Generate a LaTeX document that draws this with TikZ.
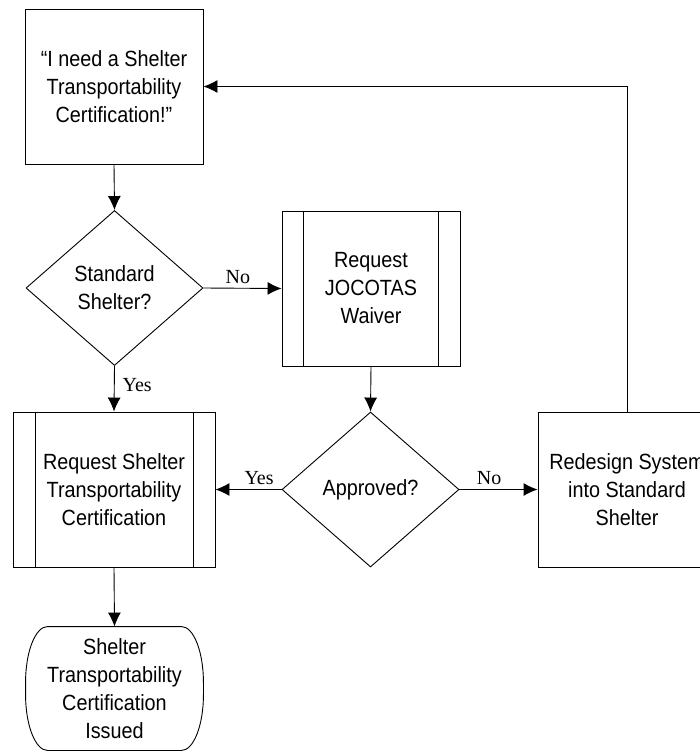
\documentclass[tikz,border=0pt]{standalone}
\usepackage{fontspec}
\setmainfont{Liberation Sans}
\newfontfamily\boxfont[FakeStretch=0.9]{Liberation Sans}
\newfontfamily\labfont{Liberation Serif}
\usetikzlibrary{arrows.meta,shapes.geometric}
\begin{document}
\begin{tikzpicture}[x=1pt,y=-1pt, line width=0.9pt,
  txt/.style={font=\boxfont\fontsize{22pt}{28pt}\selectfont, align=center, inner sep=0pt},
  boxnode/.style={txt, draw, rectangle, minimum width=178pt, minimum height=155pt},
  procnode/.style={boxnode},
  decnode/.style={txt, draw, diamond, minimum width=177pt, minimum height=155pt},
  termnode/.style={txt, minimum width=177pt, minimum height=123pt},
  conn/.style={-{Latex[length=14pt,width=13pt]}},
  lab/.style={font=\labfont\fontsize{20pt}{24pt}\selectfont, inner sep=0pt}
]
\useasboundingbox (0,0) rectangle (700,752);
\clip (0,0) rectangle (700,752);

\node[boxnode] (n1) at (114,86.5) {“I need a Shelter\\Transportability\\Certification!”};
\node[decnode] (d1) at (114.5,288) {Standard\\Shelter?};
\node[procnode] (jo) at (371,288.5) {Request\\JOCOTAS\\Waiver};
\node[decnode] (d2) at (370.5,489.5) {Approved?};
\node[procnode, minimum width=202pt] (rq) at (114,489.5) {Request Shelter\\Transportability\\Certification};
\node[boxnode] (rd) at (627,489.5) {Redesign System\\into Standard\\Shelter};
\node[termnode] (t) at (114.5,688.5) {Shelter\\Transportability\\Certification\\Issued};

% inner bars of predefined-process boxes
\draw ([xshift=22pt]jo.north west) -- ([xshift=22pt]jo.south west);
\draw ([xshift=-22pt]jo.north east) -- ([xshift=-22pt]jo.south east);
\draw ([xshift=23pt]rq.north west) -- ([xshift=23pt]rq.south west);
\draw ([xshift=-22pt]rq.north east) -- ([xshift=-22pt]rq.south east);

% terminator outline
\draw ([xshift=22pt]t.north west) -- ([xshift=-22pt]t.north east)
  arc[start angle=90,end angle=0,x radius=22pt,y radius=56pt]
  -- ([yshift=56pt]t.south east)
  arc[start angle=0,end angle=-90,x radius=22pt,y radius=56pt]
  -- ([xshift=22pt]t.south west)
  arc[start angle=270,end angle=180,x radius=22pt,y radius=56pt]
  -- ([yshift=-56pt]t.north west)
  arc[start angle=180,end angle=90,x radius=22pt,y radius=56pt]
  -- cycle;

% connectors
\draw[conn] (n1.south) -- (d1.north);
\draw[conn] (d1.east) -- node[lab, pos=0.44, anchor=base, yshift=5pt] (l1) {No} (jo.west);
\draw[conn] (d1.south) -- node[lab, pos=0.56, anchor=base west, xshift=8pt] (l2) {Yes} (rq.north);
\draw[conn] (jo.south) -- (d2.north);
\draw[conn] (d2.west) -- node[lab, pos=0.34, anchor=base, yshift=5pt] (l3) {Yes} (rq.east);
\draw[conn] (d2.east) -- node[lab, pos=0.38, anchor=base, yshift=5pt] (l4) {No} (rd.west);
\draw[conn] (rd.north) |- (n1.east);
\draw[conn] (rq.south) -- (t.north);
\end{tikzpicture}
\end{document}
